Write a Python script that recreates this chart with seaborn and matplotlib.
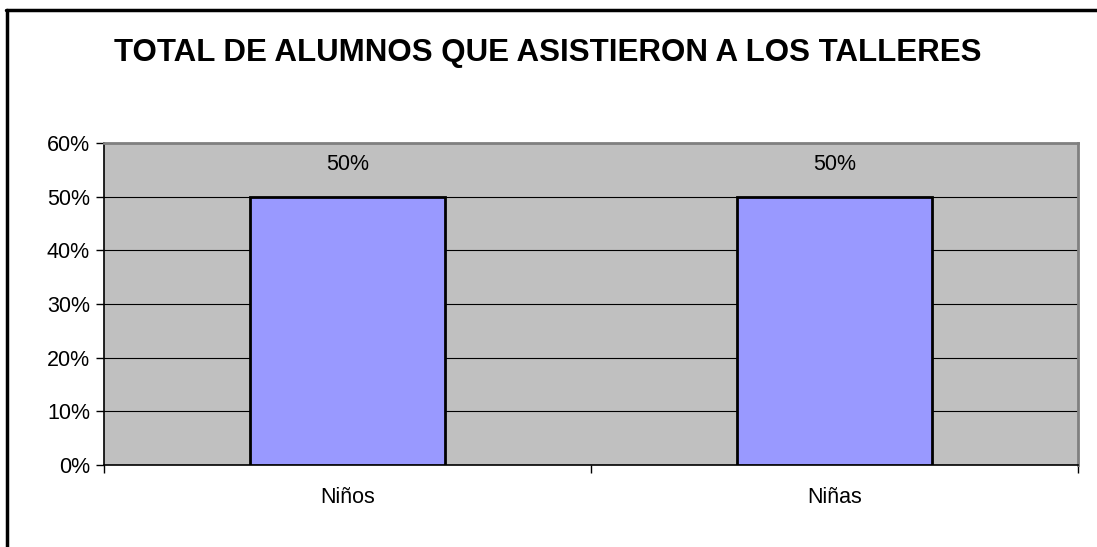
import numpy as np
import pandas as pd
import matplotlib
matplotlib.use("Agg")
import matplotlib.pyplot as plt
import seaborn as sns
from matplotlib.ticker import PercentFormatter, FixedLocator

categories = ["Niños", "Niñas"]
values = [50, 50]
bar_labels = ["50%", "50%"]
title = "TOTAL DE ALUMNOS QUE ASISTIERON A LOS TALLERES"

df = pd.DataFrame({"grupo": categories, "pct": values})

sns.set_style("white")
plt.rcParams['font.family'] = ['Liberation Sans', 'DejaVu Sans']
plt.rcParams['text.color'] = 'black'
plt.rcParams['xtick.color'] = 'black'
plt.rcParams['ytick.color'] = 'black'

fig = plt.figure(figsize=(10.97, 5.47), dpi=100)
ax = fig.add_axes([104/1097, 1-465/547, (1078-104)/1097, (465-143)/547])
ax.set_facecolor("#C0C0C0")

sns.barplot(data=df, x="grupo", y="pct", ax=ax, color="#9999FF",
	edgecolor="black", linewidth=2, width=0.4, saturation=1, zorder=3)

ax.set_xlim(-0.5, 1.5)
ax.set_ylim(0, 60)
ax.set_yticks(np.arange(0, 61, 10))
ax.yaxis.set_major_formatter(PercentFormatter(decimals=0))
ax.grid(axis="y", color="black", linewidth=0.8, zorder=1)
ax.set_axisbelow(True)

ax.tick_params(axis="y", direction="out", length=6, width=1, color="black", labelcolor="black", labelsize=15.5, pad=4, left=True)
ax.tick_params(axis="x", which="major", length=0, labelsize=15.5, labelcolor="black", pad=16)
ax.xaxis.set_minor_locator(FixedLocator([-0.5, 0.5, 1.5]))
ax.tick_params(axis="x", which="minor", direction="out", length=6, width=1, color="black", bottom=True)
ax.set_xlabel("")
ax.set_ylabel("")

for s in ["left", "bottom"]:
	ax.spines[s].set_color("black")
	ax.spines[s].set_linewidth(1.2)
for s in ["top", "right"]:
	ax.spines[s].set_visible(True)
	ax.spines[s].set_color("#808080")
	ax.spines[s].set_linewidth(2)

for i, lab in enumerate(bar_labels):
	ax.annotate(lab, (i, values[i]), xytext=(0, 23), textcoords="offset points",
		ha="center", va="center", fontsize=15.5, color="black")

fig.text(548/1097, 1-53/547, title, ha="center", va="center", fontsize=22.5, fontweight="bold", color="black")

# outer frame (left and top visible)
fig.add_artist(plt.Line2D([7/1097, 7/1097], [0, 1-10/547], color="black", linewidth=2.5, transform=fig.transFigure))
fig.add_artist(plt.Line2D([6/1097, 1], [1-10/547, 1-10/547], color="black", linewidth=2.5, transform=fig.transFigure))

fig.savefig("out.png", dpi=100)
